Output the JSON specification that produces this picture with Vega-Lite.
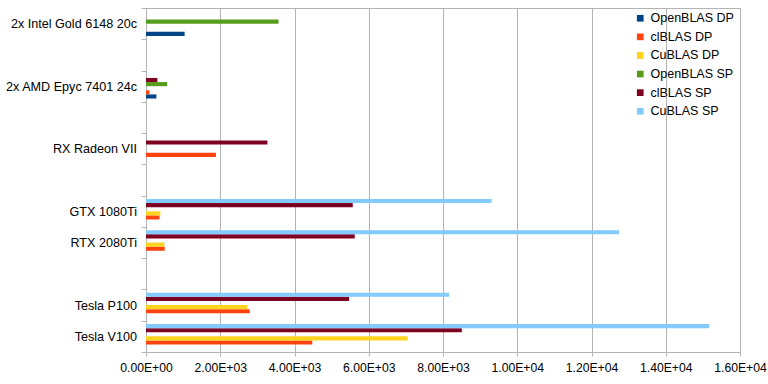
{
  "$schema": "https://vega.github.io/schema/vega-lite/v6.json",
  "autosize": {"type": "none"},
  "padding": {"left": 146, "top": 8, "right": 28, "bottom": 32},
  "width": 594,
  "height": 344,
  "background": "#ffffff",
  "config": {
    "font": "Liberation Sans",
    "view": {"stroke": "#b3b3b3", "strokeWidth": 1},
    "axis": {"labelFont": "Liberation Sans", "labelColor": "#000000", "domainColor": "#b3b3b3", "tickColor": "#b3b3b3", "gridColor": "#b3b3b3", "gridOpacity": 1}
  },
  "data": {
    "values": [
      {"cpu": "2x Intel Gold 6148 20c", "lib": "OpenBLAS DP", "gflops": 1040},
      {"cpu": "2x Intel Gold 6148 20c", "lib": "OpenBLAS SP", "gflops": 3570},
      {"cpu": "2x AMD Epyc 7401 24c", "lib": "OpenBLAS DP", "gflops": 281},
      {"cpu": "2x AMD Epyc 7401 24c", "lib": "clBLAS DP", "gflops": 92},
      {"cpu": "2x AMD Epyc 7401 24c", "lib": "OpenBLAS SP", "gflops": 568},
      {"cpu": "2x AMD Epyc 7401 24c", "lib": "clBLAS SP", "gflops": 308},
      {"cpu": "RX Radeon VII", "lib": "clBLAS DP", "gflops": 1884},
      {"cpu": "RX Radeon VII", "lib": "clBLAS SP", "gflops": 3271},
      {"cpu": "GTX 1080Ti", "lib": "clBLAS DP", "gflops": 362},
      {"cpu": "GTX 1080Ti", "lib": "CuBLAS DP", "gflops": 389},
      {"cpu": "GTX 1080Ti", "lib": "clBLAS SP", "gflops": 5569},
      {"cpu": "GTX 1080Ti", "lib": "CuBLAS SP", "gflops": 9309},
      {"cpu": "RTX 2080Ti", "lib": "clBLAS DP", "gflops": 505},
      {"cpu": "RTX 2080Ti", "lib": "CuBLAS DP", "gflops": 495},
      {"cpu": "RTX 2080Ti", "lib": "clBLAS SP", "gflops": 5623},
      {"cpu": "RTX 2080Ti", "lib": "CuBLAS SP", "gflops": 12742},
      {"cpu": "Tesla P100", "lib": "clBLAS DP", "gflops": 2795},
      {"cpu": "Tesla P100", "lib": "CuBLAS DP", "gflops": 2730},
      {"cpu": "Tesla P100", "lib": "clBLAS SP", "gflops": 5470},
      {"cpu": "Tesla P100", "lib": "CuBLAS SP", "gflops": 8164},
      {"cpu": "Tesla V100", "lib": "clBLAS DP", "gflops": 4479},
      {"cpu": "Tesla V100", "lib": "CuBLAS DP", "gflops": 7047},
      {"cpu": "Tesla V100", "lib": "clBLAS SP", "gflops": 8507},
      {"cpu": "Tesla V100", "lib": "CuBLAS SP", "gflops": 15175}
    ]
  },
  "mark": {"type": "bar"},
  "encoding": {
    "y": {
      "field": "cpu",
      "type": "nominal",
      "scale": {
        "domain": ["2x Intel Gold 6148 20c", " ", "2x AMD Epyc 7401 24c", "  ", "RX Radeon VII", "   ", "GTX 1080Ti", "RTX 2080Ti", "    ", "Tesla P100", "Tesla V100"],
        "paddingInner": 0,
        "paddingOuter": 0
      },
      "axis": {"title": null, "tickBand": "extent", "tickSize": 5, "labelPadding": 4.5, "labelFontSize": 12.6, "domain": true}
    },
    "yOffset": {
      "field": "lib",
      "type": "nominal",
      "scale": {
        "domain": ["CuBLAS SP", "clBLAS SP", "OpenBLAS SP", "CuBLAS DP", "clBLAS DP", "OpenBLAS DP"],
        "paddingInner": 0,
        "paddingOuter": 0.8
      }
    },
    "x": {
      "field": "gflops",
      "type": "quantitative",
      "scale": {"domain": [0, 16000], "nice": false},
      "axis": {
        "title": null,
        "values": [0, 2000, 4000, 6000, 8000, 10000, 12000, 14000, 16000],
        "grid": true,
        "tickSize": 4,
        "labelPadding": 5,
        "labelFontSize": 12.2,
        "labelOverlap": false,
        "labelBound": false,
        "labelFlush": false,
        "labelExpr": "replace(format(datum.value, '.2e'), 'e+', 'E+0')"
      }
    },
    "color": {
      "field": "lib",
      "type": "nominal",
      "scale": {
        "domain": ["OpenBLAS DP", "clBLAS DP", "CuBLAS DP", "OpenBLAS SP", "clBLAS SP", "CuBLAS SP"],
        "range": ["#004586", "#ff420e", "#ffd320", "#579d1c", "#7e0021", "#83caff"]
      },
      "legend": {
        "title": null,
        "orient": "none",
        "legendX": 488,
        "legendY": 4,
        "padding": 0,
        "symbolType": "square",
        "symbolSize": 45,
        "symbolStrokeWidth": 0,
        "symbolOpacity": 1,
        "labelFont": "Liberation Sans",
        "labelFontSize": 12.5,
        "labelColor": "#000000",
        "labelOffset": 4,
        "rowPadding": 5.6
      }
    }
  }
}
